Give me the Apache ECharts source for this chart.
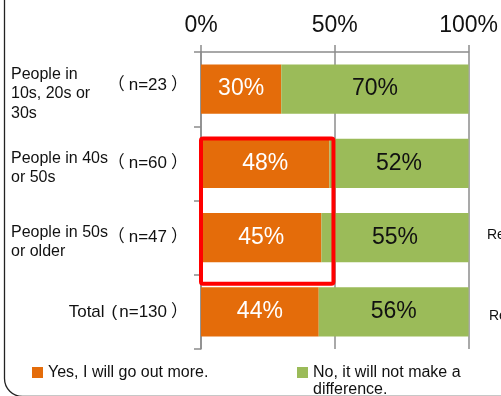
<!DOCTYPE html>
<html>
<head>
<meta charset="utf-8">
<script src="https://cdn.jsdelivr.net/npm/echarts@6/dist/echarts.min.js"></script>
<style>html,body{margin:0;padding:0;background:#fff;}#c{width:501px;height:396px;}</style>
</head>
<body>
<div id="c"></div>
<script>
var categories = ['10-30s', '40-50s', '50s+', 'Total'];
var groupNames = ['People in\n10s, 20s or\n30s', 'People in 40s\nor 50s', 'People in 50s\nor older', ''];
var sampleLabels = ['（n=23）', '（n=60）', '（n=47）', 'Total(n=130）'];
var yesValues = [30, 48, 45, 44];
var noValues = [70, 52, 55, 56];
var seriesNames = ['Yes, I will go out more.', 'No, it will not make a difference.'];
var sideNotes = ['Re', 'Re'];

var FONT = "'Liberation Sans', Arial, 'Noto Sans CJK JP', sans-serif";
var chart = echarts.init(document.getElementById('c'), null, {renderer: 'canvas'});
var grey = '#8c8c8c';

function sampleRich(s, i) {
  var out = '';
  var buf = '';
  var sfx = i === 0 ? '0' : '';
  for (var k = 0; k < s.length; k++) {
    var ch = s.charAt(k);
    var key = ch === '（' ? 'l' : ch === '）' ? 'r' : ch === '(' ? 'q' : null;
    if (key) {
      if (buf) { out += '{t' + sfx + '|' + buf + '}'; buf = ''; }
      out += '{' + key + sfx + '|' + ch + '}';
    } else {
      buf += ch;
    }
  }
  if (buf) out += '{t' + sfx + '|' + buf + '}';
  return out;
}

var nStyle = {fontSize: 17, color: '#111', fontFamily: FONT};
function ns(pad) { return Object.assign({}, nStyle, {padding: pad}); }

var option = {
  animation: false,
  textStyle: {fontFamily: FONT},
  grid: {left: 201, right: 30, top: 52, bottom: 47, containLabel: false},
  xAxis: {
    type: 'value', position: 'top', min: 0, max: 100, interval: 50,
    axisLine: {show: true, lineStyle: {color: grey, width: 1.5}},
    axisTick: {show: true, length: 7, lineStyle: {color: grey, width: 1.5}},
    splitLine: {show: true, lineStyle: {color: grey, width: 1.5}},
    axisLabel: {formatter: '{value}%', fontSize: 23, color: '#111', margin: 15, fontFamily: FONT}
  },
  yAxis: [{
    type: 'category', data: categories, inverse: true,
    axisLine: {show: true, lineStyle: {color: grey, width: 1.5}},
    axisTick: {show: true, length: 7, lineStyle: {color: grey, width: 1.5}},
    axisLabel: {
      margin: 13, fontSize: 17, color: '#111', fontFamily: FONT,
      formatter: function (v, i) { return sampleRich(sampleLabels[i], i); },
      rich: {
        t: ns([0, 0, 0, 0]),
        l: ns([0, 4, 0, 0]),
        r: ns([0, 0, 0, 4]),
        q: ns([0, 2, 0, 7]),
        t0: ns([0, 0, 8, 0]),
        l0: ns([0, 4, 8, 0]),
        r0: ns([0, 0, 8, 4]),
        q0: ns([0, 2, 8, 7])
      }
    }
  }, {
    type: 'category', data: categories, inverse: true, position: 'left',
    axisLine: {show: false}, axisTick: {show: false},
    axisLabel: {
      margin: 190, align: 'left', fontSize: 16, color: '#111', fontFamily: FONT,
      formatter: function (v, i) {
        if (!groupNames[i]) return '';
        return '{s| }\n' + groupNames[i].split('\n').map(function (l) { return '{g|' + l + '}'; }).join('\n');
      },
      rich: {
        s: {fontSize: 2, lineHeight: 9},
        g: {fontSize: 16, lineHeight: 19.5, color: '#111', fontFamily: FONT}
      }
    }
  }],
  legend: [{
    data: [seriesNames[0]], left: 32, top: 363.5, padding: 0,
    icon: 'rect', itemWidth: 11, itemHeight: 11,
    textStyle: {fontSize: 16, color: '#111', fontFamily: FONT, lineHeight: 18}
  }, {
    data: [seriesNames[1]], left: 297, top: 347, padding: 0,
    icon: 'rect', itemWidth: 11, itemHeight: 11,
    formatter: function (n) {
      var parts = n.replace('make a ', 'make a\n').split('\n');
      return '{s| }\n' + parts.map(function (l) { return '{t|' + l + '}'; }).join('\n');
    },
    textStyle: {
      fontSize: 16, color: '#111', fontFamily: FONT, lineHeight: 17,
      rich: {
        s: {fontSize: 2, lineHeight: 17},
        t: {fontSize: 16, lineHeight: 17, color: '#111', fontFamily: FONT}
      }
    }
  }],
  series: [{
    name: seriesNames[0], type: 'bar', stack: 's', data: yesValues,
    barCategoryGap: '34%',
    itemStyle: {color: '#E46C0A'},
    label: {show: true, position: 'inside', formatter: '{c}%', fontSize: 23, color: '#fff', fontFamily: FONT}
  }, {
    name: seriesNames[1], type: 'bar', stack: 's', data: noValues,
    barCategoryGap: '34%',
    itemStyle: {color: '#9BBB59'},
    label: {show: true, position: 'inside', formatter: '{c}%', fontSize: 23, color: '#111', fontFamily: FONT}
  }]
};
chart.setOption(option);

// annotation: red highlight box and page frame
var x0 = chart.convertToPixel({xAxisIndex: 0}, 0);
var x1 = chart.convertToPixel({xAxisIndex: 0}, 49.5);
var c1 = chart.convertToPixel({yAxisIndex: 0}, categories[1]);
var c2 = chart.convertToPixel({yAxisIndex: 0}, categories[2]);
var c3 = chart.convertToPixel({yAxisIndex: 0}, categories[3]);
chart.setOption({
  graphic: [{
    type: 'rect', silent: true, z: 100,
    shape: {x: x0, y: c1 - 25, width: x1 - x0, height: (c2 + 46) - (c1 - 25), r: 2},
    style: {fill: 'none', stroke: '#ff0000', lineWidth: 4}
  }, {
    type: 'rect', silent: true, z: 100,
    shape: {x: 4.5, y: -40, width: 700, height: 436.5, r: 18},
    style: {fill: 'none', stroke: '#222', lineWidth: 1.3}
  }, {
    type: 'text', silent: true, left: 487, top: c2 - 9,
    style: {text: sideNotes[0], fontSize: 14, fill: '#111', fontFamily: FONT}
  }, {
    type: 'text', silent: true, left: 489, top: c3 - 3,
    style: {text: sideNotes[1], fontSize: 14, fill: '#111', fontFamily: FONT}
  }]
});
</script>
</body>
</html>
